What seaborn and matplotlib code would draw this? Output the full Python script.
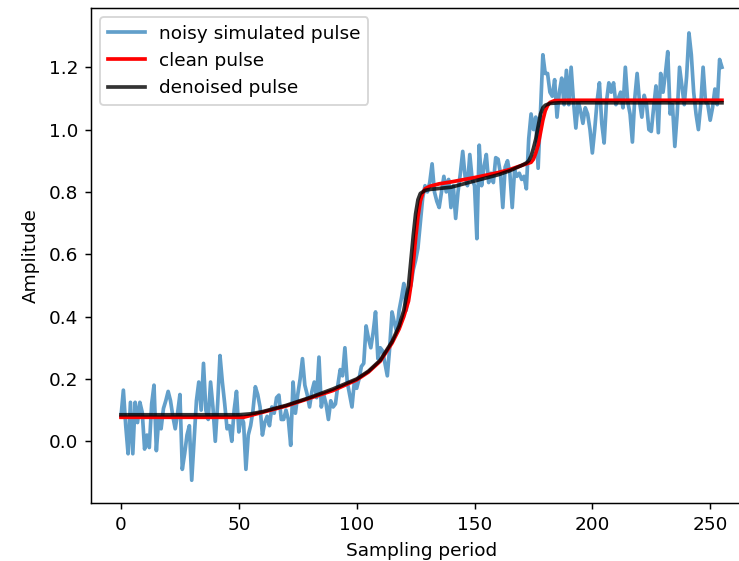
import numpy as np
import seaborn as sns
import matplotlib.pyplot as plt

# noisy simulated pulse, one value per sample
noisy = [
    0.08, 0.164, 0.05, -0.04, 0.125, -0.04, 0.125, 0.06, 0.125, 0.093,
    -0.025, 0.02, -0.02, 0.12, 0.18, -0.03, 0.07, 0.04, 0.105, 0.13,
    0.16, 0.13, 0.08, 0.04, 0.09, 0.15, -0.09, -0.04, 0.02, 0.05,
    -0.125, 0.0, 0.13, 0.19, 0.1, 0.25, 0.1, 0.07, 0.19, 0.11,
    0.0, 0.12, 0.275, 0.19, 0.12, 0.04, 0.05, 0.0, 0.1, 0.16,
    0.03, 0.08, 0.06, -0.09, 0.02, 0.05, 0.1, 0.175, 0.15, 0.11,
    0.02, 0.06, 0.08, 0.05, 0.11, 0.09, 0.14, 0.148, 0.07, 0.07,
    0.1, 0.07, -0.013, 0.19, 0.09, 0.15, 0.2, 0.265, 0.18, 0.15,
    0.11, 0.16, 0.19, 0.14, 0.27, 0.11, 0.15, 0.12, 0.07, 0.13,
    0.11, 0.12, 0.18, 0.23, 0.21, 0.30, 0.19, 0.15, 0.11, 0.19,
    0.17, 0.2, 0.24, 0.25, 0.37, 0.33, 0.3, 0.35, 0.415, 0.265,
    0.3, 0.29, 0.25, 0.21, 0.3, 0.415, 0.38, 0.35, 0.42, 0.46,
    0.506, 0.42, 0.48, 0.5, 0.55, 0.58, 0.62, 0.7, 0.78, 0.82,
    0.8, 0.83, 0.89, 0.8, 0.77, 0.75, 0.8, 0.85, 0.8, 0.84,
    0.75, 0.82, 0.715, 0.8, 0.86, 0.93, 0.85, 0.82, 0.92, 0.84,
    0.82, 0.65, 0.95, 0.82, 0.88, 0.92, 0.83, 0.86, 0.83, 0.91,
    0.905, 0.86, 0.75, 0.88, 0.9, 0.86, 0.75, 0.87, 0.85, 0.86,
    0.84, 0.85, 0.81, 0.97, 1.05, 1.0, 1.04, 0.876, 1.06, 1.24,
    1.18, 1.18, 1.12, 1.107, 1.16, 1.04, 1.12, 1.165, 1.08, 1.19,
    1.08, 1.2, 1.09, 1.005, 1.09, 1.06, 1.02, 1.07, 1.05, 1.0,
    0.925, 1.0, 1.09, 1.15, 1.02, 0.957, 1.09, 1.15, 1.12, 1.15,
    1.08, 1.1, 1.12, 1.07, 1.2, 1.09, 1.05, 0.96, 1.1, 1.18,
    1.09, 1.04, 1.11, 1.08, 1.0, 0.994, 1.07, 1.14, 0.99, 1.18,
    1.12, 1.18, 1.25, 1.05, 1.08, 0.946, 1.05, 1.2, 1.14, 1.08,
    1.17, 1.31, 1.24, 1.12, 1.05, 1.0, 1.08, 1.2, 1.09, 1.08,
    1.03, 1.07, 1.13, 1.08, 1.225, 1.2,
]

# clean pulse, sampled at key positions
clean_x = [0, 52, 60, 70, 80, 90, 100, 105, 110, 115, 118, 120, 122, 123,
           124, 125, 126, 127, 128, 129, 131, 135, 140, 150, 160, 165, 170,
           172, 174, 175, 176, 177, 178, 179, 180, 181, 182, 184, 190, 255]
clean_y = [0.077, 0.077, 0.093, 0.113, 0.138, 0.163, 0.197, 0.222, 0.257,
           0.315, 0.36, 0.40, 0.45, 0.50, 0.57, 0.65, 0.72, 0.77, 0.795,
           0.81, 0.818, 0.826, 0.832, 0.846, 0.862, 0.872, 0.885, 0.89,
           0.895, 0.905, 0.925, 0.95, 0.99, 1.03, 1.06, 1.077, 1.087,
           1.093, 1.094, 1.094]

# denoised pulse
den_x = [0, 50, 55, 60, 70, 80, 90, 100, 105, 110, 115, 118, 120, 122, 123,
         124, 125, 126, 127, 129, 131, 140, 150, 160, 165, 170, 172, 173,
         174, 175, 176, 177, 178, 179, 180, 182, 186, 255]
den_y = [0.085, 0.085, 0.088, 0.095, 0.115, 0.14, 0.168, 0.2, 0.225, 0.26,
         0.32, 0.37, 0.42, 0.50, 0.58, 0.66, 0.73, 0.775, 0.795, 0.805,
         0.808, 0.815, 0.835, 0.855, 0.868, 0.885, 0.893, 0.90, 0.915,
         0.94, 0.97, 1.01, 1.05, 1.07, 1.078, 1.084, 1.086, 1.086]

# reference is rendered at ~133 dpi
DPI = 133
fig = plt.figure(figsize=(739 / DPI, 561 / DPI), dpi=DPI)
ax = fig.add_axes([0.1231, 0.1034, 0.8945, 0.8823])

sns.lineplot(x=np.arange(len(noisy)), y=noisy, ax=ax, color="tab:blue",
             alpha=0.7, linewidth=2, label="noisy simulated pulse")
sns.lineplot(x=clean_x, y=clean_y, ax=ax, color="red", linewidth=2,
             label="clean pulse")
sns.lineplot(x=den_x, y=den_y, ax=ax, color="black", alpha=0.8,
             linewidth=2, label="denoised pulse")

ax.set_xlim(-12.75, 267.75)
ax.set_ylim(-0.198, 1.39)
ax.set_xticks([0, 50, 100, 150, 200, 250])
ax.set_xlabel("Sampling period")
ax.set_ylabel("Amplitude")
ax.xaxis.set_label_coords(0.5, -0.079)
ax.yaxis.set_label_coords(-0.078, 0.5)
ax.legend(loc="upper left")

fig.savefig("out.png", dpi=DPI)
